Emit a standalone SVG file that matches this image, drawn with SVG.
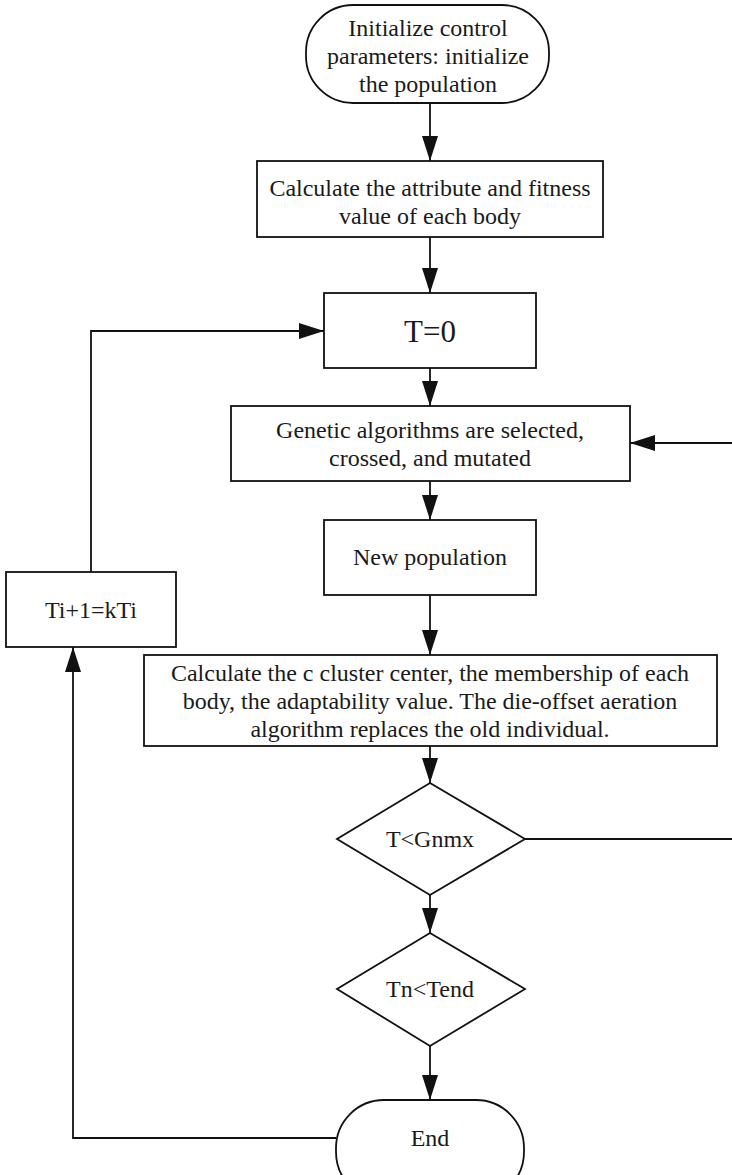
<svg xmlns="http://www.w3.org/2000/svg" width="732" height="1175" viewBox="0 0 732 1175">
<defs>
<marker id="arr" markerUnits="userSpaceOnUse" markerWidth="26" markerHeight="16" refX="25" refY="8" orient="auto">
<path d="M0,0 L25,8 L0,16 z" fill="#111"/>
</marker>
<style>
.s{fill:#fff;stroke:#111;stroke-width:1.8}
.c{fill:none;stroke:#111;stroke-width:1.8;marker-end:url(#arr)}
text{font-family:"Liberation Serif","Times New Roman",serif;font-size:24px;fill:#1a1a1a;text-anchor:middle}
</style>
</defs>
<rect width="732" height="1175" fill="#fff"/>
<g id="connectors">
<path class="c" d="M430,103 V161"/>
<path class="c" d="M430,237 V293"/>
<path class="c" d="M430,368 V406"/>
<path class="c" d="M430,481 V520"/>
<path class="c" d="M430,595 V655"/>
<path class="c" d="M430,746 V783"/>
<path class="c" d="M430,895 V933"/>
<path class="c" d="M430,1046 V1100"/>
<path class="c" d="M525,839 H734 V443 H630"/>
<path class="c" d="M91,572 V331 H324"/>
<path class="c" d="M336,1138 H73 V647"/>
</g>
<g id="start">
<rect class="s" x="306" y="5" width="243" height="98" rx="47" ry="47"/>
<text x="428" y="36">Initialize control</text>
<text x="428" y="64">parameters: initialize</text>
<text x="428" y="92">the population</text>
</g>
<g id="calc-fitness">
<rect class="s" x="257" y="161" width="346" height="76"/>
<text x="430" y="196">Calculate the attribute and fitness</text>
<text x="430" y="224">value of each body</text>
</g>
<g id="t0">
<rect class="s" x="324" y="293" width="212" height="75"/>
<text x="430" y="342" style="font-size:31px">T=0</text>
</g>
<g id="genetic">
<rect class="s" x="231" y="406" width="399" height="75"/>
<text x="430" y="438">Genetic algorithms are selected,</text>
<text x="430" y="466">crossed, and mutated</text>
</g>
<g id="newpop">
<rect class="s" x="324" y="520" width="212" height="75"/>
<text x="430" y="565">New population</text>
</g>
<g id="ti">
<rect class="s" x="6" y="572" width="170" height="75"/>
<text x="91" y="618">Ti+1=kTi</text>
</g>
<g id="cluster">
<rect class="s" x="144" y="655" width="573" height="91"/>
<text x="430" y="681">Calculate the c cluster center, the membership of each</text>
<text x="430" y="709">body, the adaptability value. The die-offset aeration</text>
<text x="430" y="737">algorithm replaces the old individual.</text>
</g>
<g id="cond1">
<polygon class="s" points="430,783 525,839 430,895 337,839"/>
<text x="430" y="847">T&lt;Gnmx</text>
</g>
<g id="cond2">
<polygon class="s" points="430,933 525,989 430,1046 337,989"/>
<text x="430" y="997">Tn&lt;Tend</text>
</g>
<g id="end">
<rect class="s" x="336" y="1100" width="188" height="100" rx="48" ry="48"/>
<text x="430" y="1146">End</text>
</g>
</svg>
